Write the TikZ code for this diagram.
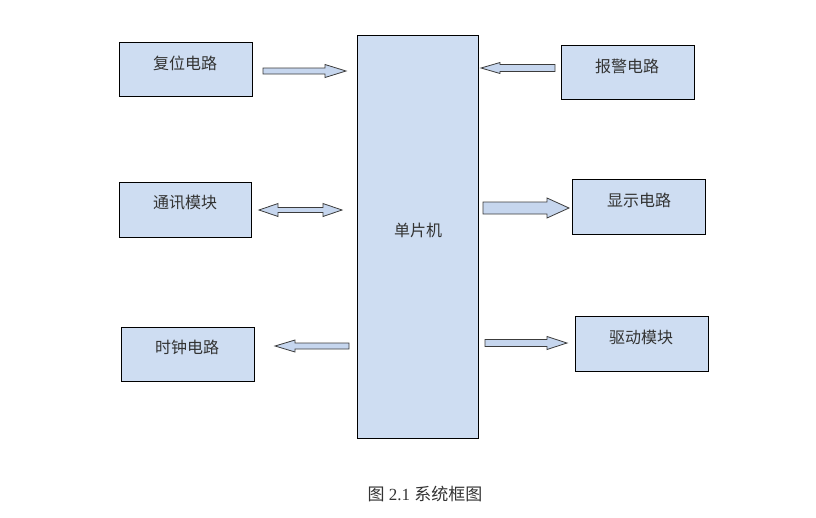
\documentclass[tikz,border=0pt]{standalone}
\usepackage{fontspec}
\setmainfont{Liberation Serif}
\newfontfamily\cjk{Noto Sans CJK SC}
\definecolor{boxfill}{RGB}{206,221,242}
\definecolor{arrfill}{RGB}{198,214,238}
\definecolor{arrline}{RGB}{60,60,60}
\newcommand{\myarrow}[6]{% tail x, tip x, y, shaft half, head half, head length (signed)
  \draw[arrowshape] (#1,{#3-#4}) -- ({#2-#6},{#3-#4}) -- ({#2-#6},{#3-#5}) -- (#2,#3)
    -- ({#2-#6},{#3+#5}) -- ({#2-#6},{#3+#4}) -- (#1,{#3+#4}) -- cycle;}
\newcommand{\mydarrow}[6]{% left tip, right tip, y, shaft half, head half, head length
  \draw[arrowshape] (#1,#3) -- ({#1+#6},{#3-#5}) -- ({#1+#6},{#3-#4}) -- ({#2-#6},{#3-#4})
    -- ({#2-#6},{#3-#5}) -- (#2,#3) -- ({#2-#6},{#3+#5}) -- ({#2-#6},{#3+#4})
    -- ({#1+#6},{#3+#4}) -- ({#1+#6},{#3+#5}) -- cycle;}
\begin{document}
\begin{tikzpicture}[x=1pt,y=-1pt,
  box/.style={draw=black,line width=0.9pt,fill=boxfill,anchor=north west,inner sep=0pt},
  boxtext/.style={font=\cjk\fontsize{16}{16}\selectfont,text=black!80,inner sep=0pt},
  arrowshape/.style={draw=arrline,fill=arrfill,line width=0.8pt,line join=miter}]
\useasboundingbox (0,0) rectangle (816,517);
% boxes
\node[box,minimum width=133pt,minimum height=54pt] (fw) at (119,42) {};
\node[boxtext] (fwt) at (185,63) {复位电路};
\node[box,minimum width=133pt,minimum height=54pt] (bj) at (561,45) {};
\node[boxtext] (bjt) at (627,66) {报警电路};
\node[box,minimum width=132pt,minimum height=55pt] (tx) at (119,182) {};
\node[boxtext] (txt) at (185,203) {通讯模块};
\node[box,minimum width=133pt,minimum height=55pt] (xs) at (572,179) {};
\node[boxtext] (xst) at (639,200) {显示电路};
\node[box,minimum width=133pt,minimum height=54pt] (sz) at (121,327) {};
\node[boxtext] (szt) at (187,347) {时钟电路};
\node[box,minimum width=133pt,minimum height=55pt] (qd) at (575,316) {};
\node[boxtext] (qdt) at (641,337) {驱动模块};
\node[box,minimum width=121pt,minimum height=403pt] (mcu) at (357,35) {};
\node[boxtext] (mcut) at (418,230) {单片机};
% arrows
\myarrow{263}{346}{71}{3}{6.5}{21}
\myarrow{555}{481}{68}{3.5}{5.5}{-19}
\mydarrow{259}{342}{210}{2.5}{6.5}{19}
\myarrow{483}{569}{208}{6}{10}{22}
\myarrow{349}{275}{346}{3}{6}{-20}
\myarrow{485}{567}{343}{3.5}{6.5}{20}
% caption
\node[font=\fontsize{17}{17}\selectfont,text=black!80,inner sep=0pt] (cap) at (425,494) {{\cjk 图} 2.1 {\cjk 系统框图}};
\end{tikzpicture}
\end{document}
